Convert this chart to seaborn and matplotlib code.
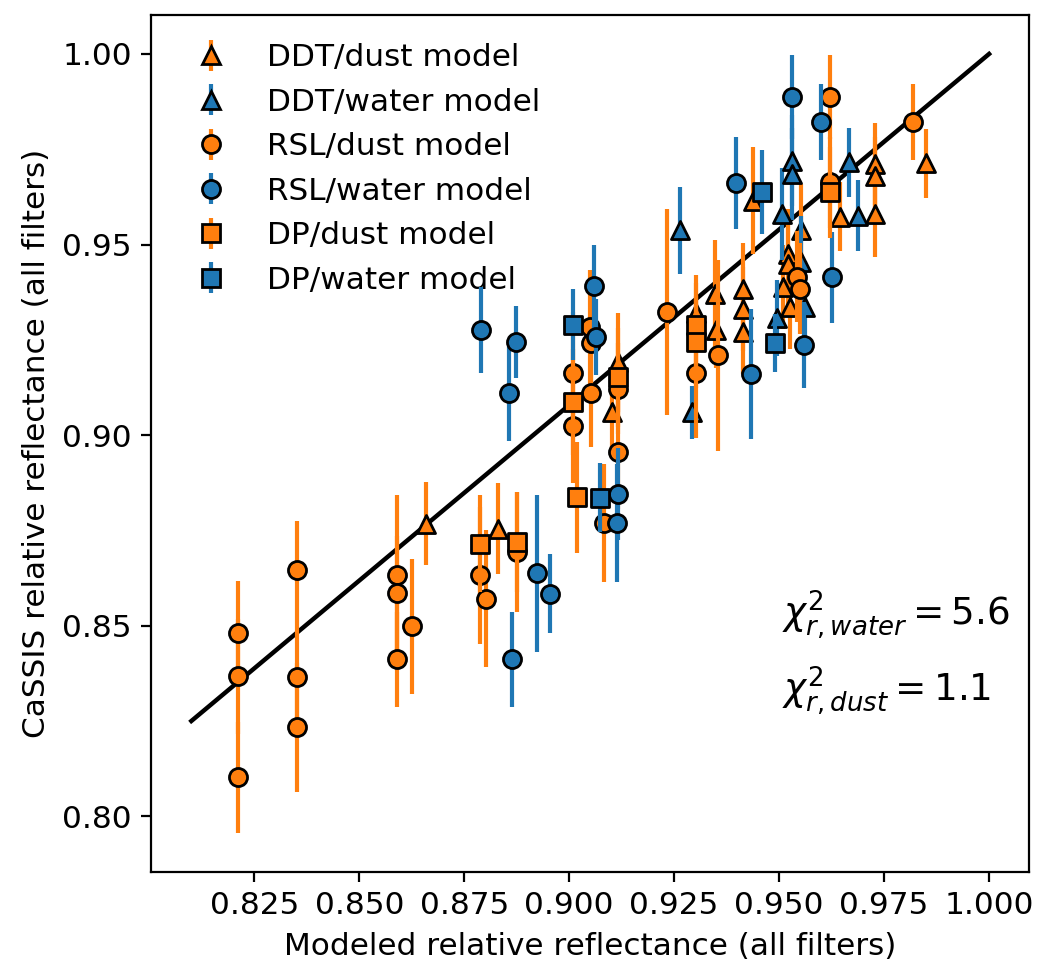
import numpy as np
import pandas as pd
import matplotlib
matplotlib.use("Agg")
import matplotlib.pyplot as plt
import seaborn as sns
from matplotlib.container import ErrorbarContainer
from matplotlib.lines import Line2D
from matplotlib.ticker import FormatStrFormatter

# --- DDT sites, dust model ---
ddt_dust_x = [0.8660, 0.8831, 0.9102, 0.9117, 0.9303, 0.9349, 0.9347, 0.9413, 0.9413, 0.9413,
              0.9438, 0.9509, 0.9521, 0.9521, 0.9525, 0.9552, 0.9646, 0.9729, 0.9729, 0.9729, 0.9849]
ddt_dust_y = [0.8768, 0.8755, 0.9060, 0.9191, 0.9320, 0.9275, 0.9371, 0.9384, 0.9330, 0.9270,
              0.9615, 0.9388, 0.9474, 0.9449, 0.9336, 0.9539, 0.9573, 0.9712, 0.9681, 0.9580, 0.9713]
ddt_dust_err = [0.011, 0.012, 0.012, 0.013, 0.010, 0.010, 0.014, 0.012, 0.011, 0.011,
                0.014, 0.011, 0.012, 0.012, 0.011, 0.012, 0.009, 0.0107, 0.010, 0.0113, 0.009]

# --- DDT sites, water model ---
ddt_water_x = [0.9264, 0.9293, 0.9496, 0.9507, 0.9530, 0.9530, 0.9551, 0.9561, 0.9667, 0.9688]
ddt_water_y = [0.9537, 0.9060, 0.9308, 0.9580, 0.9720, 0.9685, 0.9454, 0.9337, 0.9716, 0.9576]
ddt_water_err = [0.0115, 0.007, 0.010, 0.012, 0.012, 0.012, 0.012, 0.012, 0.009, 0.0093]

# --- RSL sites, dust model ---
rsl_dust_x = [0.8210, 0.8210, 0.8210, 0.8351, 0.8351, 0.8351, 0.8589, 0.8589, 0.8589, 0.8625,
              0.8787, 0.8803, 0.8875, 0.9008, 0.9008, 0.9049, 0.9051, 0.9051, 0.9083, 0.9117,
              0.9117, 0.9232, 0.9303, 0.9355, 0.9543, 0.9549, 0.9621, 0.9622, 0.9818]
rsl_dust_y = [0.8482, 0.8367, 0.8102, 0.8645, 0.8366, 0.8233, 0.8634, 0.8586, 0.8412, 0.8499,
              0.8632, 0.8571, 0.8693, 0.9163, 0.9025, 0.9283, 0.9242, 0.9110, 0.8770, 0.8955,
              0.9122, 0.9322, 0.9163, 0.9209, 0.9416, 0.9384, 0.9663, 0.9886, 0.9821]
rsl_dust_err = [0.0135, 0.015, 0.0146, 0.013, 0.015, 0.017, 0.021, 0.015, 0.0125, 0.0177,
                0.018, 0.018, 0.0157, 0.016, 0.015, 0.015, 0.013, 0.014, 0.0155, 0.015,
                0.012, 0.027, 0.017, 0.025, 0.012, 0.012, 0.012, 0.011, 0.010]

# --- RSL sites, water model ---
rsl_water_x = [0.8791, 0.8873, 0.8857, 0.9059, 0.9063, 0.8924, 0.8954, 0.8863, 0.9117, 0.9113,
               0.9397, 0.9434, 0.9530, 0.9599, 0.9559, 0.9625]
rsl_water_y = [0.9276, 0.9244, 0.9110, 0.9390, 0.9257, 0.8637, 0.8584, 0.8412, 0.8845, 0.8770,
               0.9661, 0.9161, 0.9886, 0.9821, 0.9237, 0.9414]
rsl_water_err = [0.0112, 0.0095, 0.0125, 0.011, 0.010, 0.0205, 0.0103, 0.0125, 0.012, 0.0155,
                 0.012, 0.017, 0.011, 0.010, 0.0113, 0.012]

# --- DP sites, dust model ---
dp_dust_x = [0.8787, 0.8875, 0.9008, 0.9018, 0.9117, 0.9303, 0.9303, 0.9621]
dp_dust_y = [0.8715, 0.8720, 0.9087, 0.8837, 0.9152, 0.9290, 0.9244, 0.9637]
dp_dust_err = [0.0127, 0.0131, 0.014, 0.0145, 0.013, 0.011, 0.012, 0.012]

# --- DP sites, water model ---
dp_water_x = [0.9010, 0.9073, 0.9458, 0.9490]
dp_water_y = [0.9290, 0.8836, 0.9637, 0.9242]
dp_water_err = [0.0093, 0.009, 0.011, 0.0077]

# Trend line
fit_x = [0.81, 1.0]
fit_y = [0.825, 1.0]

chi_water = 5.6
chi_dust = 1.1

x_ticks = [0.825, 0.850, 0.875, 0.900, 0.925, 0.950, 0.975, 1.000]
y_ticks = [0.80, 0.85, 0.90, 0.95, 1.00]

ORANGE = "#ff7f0e"
BLUE = "#1f77b4"

groups = [
    ("DDT/dust model", ddt_dust_x, ddt_dust_y, ddt_dust_err, "^", ORANGE),
    ("DDT/water model", ddt_water_x, ddt_water_y, ddt_water_err, "^", BLUE),
    ("RSL/dust model", rsl_dust_x, rsl_dust_y, rsl_dust_err, "o", ORANGE),
    ("RSL/water model", rsl_water_x, rsl_water_y, rsl_water_err, "o", BLUE),
    ("DP/dust model", dp_dust_x, dp_dust_y, dp_dust_err, "s", ORANGE),
    ("DP/water model", dp_water_x, dp_water_y, dp_water_err, "s", BLUE),
]

FS = 11.2
plt.rcParams["font.family"] = ["DejaVu Sans"]
plt.rcParams["font.size"] = FS
fig = plt.figure(figsize=(10.38 / 2, 9.67 / 2), dpi=200)
ax = fig.add_axes([0.1459, 0.0982, 0.9913 - 0.1459, 0.9845 - 0.0982])

sns.lineplot(x=fit_x, y=fit_y, color="k", linewidth=1.6, ax=ax, zorder=2)

MS = 6.5
handles = []
for i, (name, xs, ys, es, marker, color) in enumerate(groups):
    z = 3 + i
    eb = ax.errorbar(xs, ys, yerr=es, fmt="none", ecolor=color, elinewidth=1.5, zorder=z)
    sns.scatterplot(x=xs, y=ys, marker=marker, color=color, s=MS ** 2,
                    edgecolor="k", linewidth=1.0, zorder=z + 0.5, ax=ax, legend=False)
    proxy = Line2D([], [], ls="none", marker=marker, markersize=MS,
                   markerfacecolor=color, markeredgecolor="k", markeredgewidth=1.0)
    handles.append(ErrorbarContainer((proxy, (), eb.lines[2]),
                                     has_xerr=False, has_yerr=True, label=name))

ax.legend(handles=handles, loc="upper left", frameon=False, fontsize=FS)

ax.text(0.718, 0.288, r"$\chi^2_{r, water} = %.1f$" % chi_water, transform=ax.transAxes,
        fontsize=13.4)
ax.text(0.718, 0.200, r"$\chi^2_{r, dust} = %.1f$" % chi_dust, transform=ax.transAxes,
        fontsize=13.4)

ax.set_xlabel("Modeled relative reflectance (all filters)")
ax.set_ylabel("CaSSIS relative reflectance (all filters)")
ax.set_xticks(x_ticks)
ax.set_yticks(y_ticks)
ax.yaxis.set_major_formatter(FormatStrFormatter("%.2f"))
ax.xaxis.set_major_formatter(FormatStrFormatter("%.3f"))

fig.savefig("out.png", dpi=200)
